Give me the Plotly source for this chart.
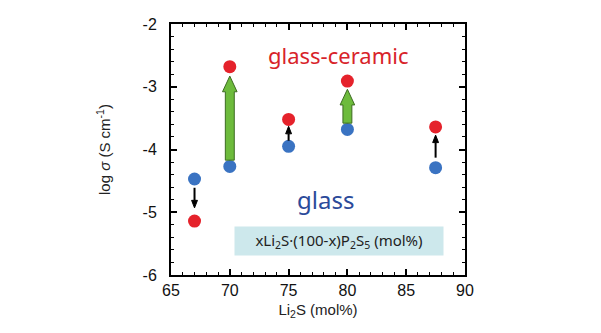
import plotly.graph_objects as go

# Data
li2s = [67, 70, 75, 80, 87.5]
glass = [-4.47, -4.27, -3.95, -3.68, -4.29]
glass_ceramic = [-5.14, -2.68, -3.52, -2.91, -3.64]

# arrows: x, from, to
green_x = [70, 80]
green_from = [-4.17, -3.58]
green_to = [-2.83, -3.04]
black_x = [67, 75, 87.5]
black_from = [-4.61, -3.86, -4.13]
black_to = [-4.93, -3.63, -3.77]

x_ticks = [65, 70, 75, 80, 85, 90]
y_ticks = [-6, -5, -4, -3, -2]

fig = go.Figure()

# green block arrows as path shapes
bw, hw, hh = 0.38, 0.62, 0.25
for x, y0, y1 in zip(green_x, green_from, green_to):
    yb = y1 - hh
    path = (f"M {x-bw},{y0} L {x+bw},{y0} L {x+bw},{yb} L {x+hw},{yb} "
            f"L {x},{y1} L {x-hw},{yb} L {x-bw},{yb} Z")
    fig.add_shape(type="path", path=path, xref="x", yref="y",
                  fillcolor="#6dbb3c", line=dict(color="#3d6b22", width=1))

# small black arrows
ahw, ahl = 0.25, 0.12
for x, y0, y1 in zip(black_x, black_from, black_to):
    d = 1 if y1 > y0 else -1
    yb = y1 - d * ahl
    fig.add_shape(type="line", x0=x, x1=x, y0=y0, y1=yb, xref="x", yref="y",
                  line=dict(color="black", width=2))
    fig.add_shape(type="path", path=f"M {x-ahw},{yb} L {x},{y1} L {x+ahw},{yb} Z",
                  xref="x", yref="y", fillcolor="black", line=dict(color="black", width=1))

fig.add_trace(go.Scatter(x=li2s, y=glass, mode="markers",
                         marker=dict(size=13, color="#3a73c2"), showlegend=False))
fig.add_trace(go.Scatter(x=li2s, y=glass_ceramic, mode="markers",
                         marker=dict(size=13, color="#e5222b"), showlegend=False))

fig.add_annotation(x=79.2, y=-2.49, xref="x", yref="y", text="glass-ceramic",
                   showarrow=False, font=dict(size=22, color="#d8232a", family="Noto Sans"))
fig.add_annotation(x=78.1, y=-4.80, xref="x", yref="y", text="glass",
                   showarrow=False, font=dict(size=24, color="#2b4a9a", family="Noto Sans"))
fig.add_annotation(x=79.3, y=-5.46, xref="x", yref="y",
                   text="xLi<sub>2</sub>S·(100-x)P<sub>2</sub>S<sub>5</sub> (mol%)",
                   showarrow=False, bgcolor="#cde8ec", width=206, height=26,
                   font=dict(size=15, color="#222", family="Noto Sans"))

axis_common = dict(showline=True, linecolor="black", linewidth=2, mirror="ticks",
                   ticks="inside", ticklen=6, tickwidth=1.5, tickcolor="black",
                   showgrid=False, zeroline=False,
                   tickfont=dict(size=16, color="#111", family="Liberation Sans"))
fig.update_xaxes(range=[65, 90], tickvals=x_ticks, ticktext=[str(v) for v in x_ticks],
                 minor=dict(dtick=1, tick0=65, ticks="inside", ticklen=3, tickwidth=1.2, tickcolor="black"),
                 title=dict(text="Li<sub>2</sub>S (mol%)", font=dict(size=15, color="#222", family="Liberation Sans"), standoff=6),
                 **axis_common)
fig.update_yaxes(range=[-6, -2], tickvals=y_ticks, ticktext=[str(v) for v in y_ticks],
                 minor=dict(dtick=0.2, tick0=-6, ticks="inside", ticklen=3, tickwidth=1.2, tickcolor="black"),
                 ticklabelstandoff=9,
                 title=dict(text="log <i>σ</i> (S cm<sup>-1</sup>)", font=dict(size=15, color="#222", family="Liberation Sans"), standoff=28),
                 **axis_common)

fig.update_layout(width=601, height=333, margin=dict(l=171, r=136, t=24, b=58),
                  plot_bgcolor="white", paper_bgcolor="white")
fig.write_html("out.html")
